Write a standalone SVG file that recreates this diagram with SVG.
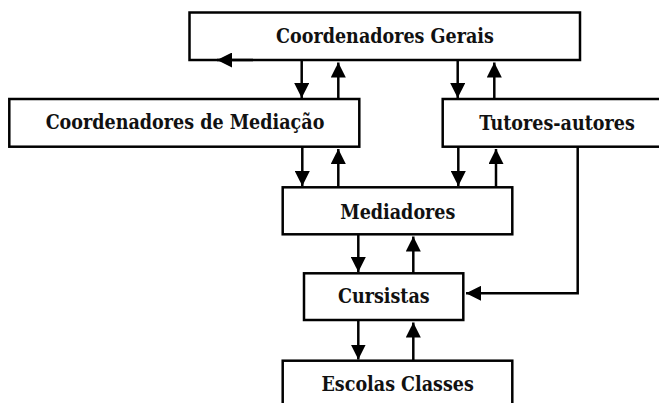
<svg xmlns="http://www.w3.org/2000/svg" width="659" height="403" viewBox="0 0 659 403">
<defs>
<style>
.box{fill:#fff;stroke:#000;stroke-width:2.5}
.lbl{font-family:"DejaVu Serif Condensed","DejaVu Serif",serif;font-weight:bold;font-size:19.5px;fill:#111;text-anchor:middle}
.c{fill:none;stroke:#000;stroke-width:2.5}
</style>
<marker id="ah" markerUnits="userSpaceOnUse" markerWidth="15" markerHeight="15" refX="14" refY="7" orient="auto" viewBox="0 0 14 14">
<path d="M0,0 L14,7 L0,14 z" fill="#000"/>
</marker>
</defs>
<rect width="659" height="403" fill="#fff"/>
<g id="coordenadores-gerais"><rect class="box" x="189.5" y="12.5" width="390.5" height="47.5"/><text class="lbl" x="385" y="43">Coordenadores Gerais</text></g>
<g id="coordenadores-mediacao"><rect class="box" x="9.3" y="99" width="350" height="47.7"/><text class="lbl" x="185" y="128.5">Coordenadores de Mediação</text></g>
<g id="tutores-autores"><rect class="box" x="442.7" y="99" width="230" height="47.7"/><text class="lbl" x="557" y="129.5">Tutores-autores</text></g>
<g id="mediadores"><rect class="box" x="282.7" y="187.3" width="229.6" height="47"/><text class="lbl" x="397.8" y="219.3">Mediadores</text></g>
<g id="cursistas"><rect class="box" x="304" y="273.3" width="159.3" height="46.7"/><text class="lbl" x="383.8" y="303.3">Cursistas</text></g>
<g id="escolas-classes"><rect class="box" x="282.7" y="360.7" width="229.6" height="60"/><text class="lbl" x="397.7" y="390.7">Escolas Classes</text></g>
<g id="connectors">
<line class="c" x1="253" y1="60" x2="217" y2="60" marker-end="url(#ah)"/>
<line class="c" x1="301.7" y1="60" x2="301.7" y2="98" marker-end="url(#ah)"/>
<line class="c" x1="338.3" y1="99" x2="338.3" y2="62.5" marker-end="url(#ah)"/>
<line class="c" x1="457.7" y1="60" x2="457.7" y2="98" marker-end="url(#ah)"/>
<line class="c" x1="494.3" y1="99" x2="494.3" y2="62.5" marker-end="url(#ah)"/>
<line class="c" x1="302.3" y1="146.7" x2="302.3" y2="186" marker-end="url(#ah)"/>
<line class="c" x1="338.3" y1="187.3" x2="338.3" y2="149" marker-end="url(#ah)"/>
<line class="c" x1="458.3" y1="146.7" x2="458.3" y2="186" marker-end="url(#ah)"/>
<line class="c" x1="496" y1="187.3" x2="496" y2="149" marker-end="url(#ah)"/>
<line class="c" x1="358.3" y1="234.3" x2="358.3" y2="272" marker-end="url(#ah)"/>
<line class="c" x1="413.3" y1="273.3" x2="413.3" y2="236.5" marker-end="url(#ah)"/>
<line class="c" x1="358.3" y1="320" x2="358.3" y2="359.5" marker-end="url(#ah)"/>
<line class="c" x1="413.3" y1="360.7" x2="413.3" y2="322.5" marker-end="url(#ah)"/>
<polyline class="c" points="577.7,146.7 577.7,293.3 466,293.3" marker-end="url(#ah)"/>
</g>
</svg>
